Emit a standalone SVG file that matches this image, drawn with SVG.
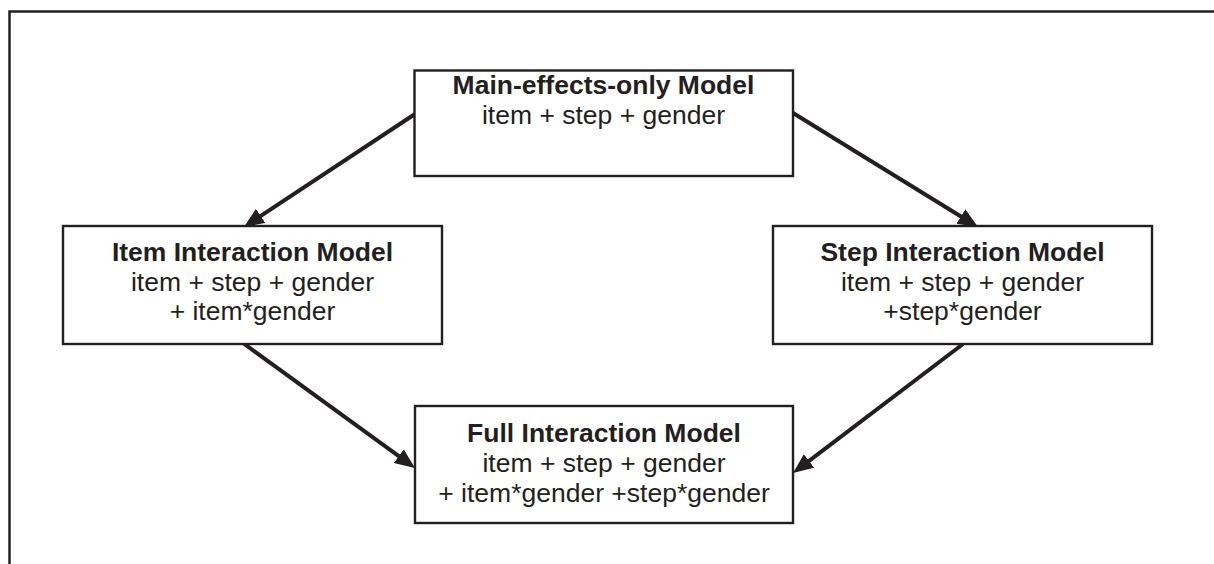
<svg xmlns="http://www.w3.org/2000/svg" width="1214" height="564" viewBox="0 0 1214 564">
<style>
.box{fill:#fff;stroke:#231f20;stroke-width:2.4}
.t{font-family:"Liberation Sans",Arial,sans-serif;font-size:26.5px;fill:#231f20;text-anchor:middle}
.b{font-weight:bold}
.c{stroke:#231f20;stroke-width:4;fill:none}
</style>
<defs>
<marker id="ah" markerUnits="userSpaceOnUse" markerWidth="22" markerHeight="18" refX="11" refY="8.5" orient="auto">
<path d="M0,0 L20,8.5 L0,17 z" fill="#231f20"/>
</marker>
</defs>
<rect width="1214" height="564" fill="#fff"/>
<path d="M9.5,564 V11.5 H1214" fill="none" stroke="#231f20" stroke-width="2.5"/>
<g id="connectors">
<line class="c" x1="415" y1="114" x2="251.5" y2="222" marker-end="url(#ah)"/>
<line class="c" x1="793" y1="113" x2="970.3" y2="222.3" marker-end="url(#ah)"/>
<line class="c" x1="243" y1="343" x2="407.7" y2="462.7" marker-end="url(#ah)"/>
<line class="c" x1="963" y1="344" x2="800.2" y2="467.6" marker-end="url(#ah)"/>
</g>
<g id="main">
<rect class="box" x="414.5" y="70.5" width="378.5" height="105.5"/>
<text class="t b" x="603.5" y="94">Main-effects-only Model</text>
<text class="t" x="603.5" y="124">item + step + gender</text>
</g>
<g id="item">
<rect class="box" x="63" y="226" width="379" height="118"/>
<text class="t b" x="252.5" y="261">Item Interaction Model</text>
<text class="t" x="252.5" y="291">item + step + gender</text>
<text class="t" x="252.5" y="320">+ item*gender</text>
</g>
<g id="step">
<rect class="box" x="773" y="226" width="379" height="118"/>
<text class="t b" x="962.5" y="261">Step Interaction Model</text>
<text class="t" x="962.5" y="291">item + step + gender</text>
<text class="t" x="962.5" y="320">+step*gender</text>
</g>
<g id="full">
<rect class="box" x="415" y="406" width="378" height="117"/>
<text class="t b" x="604" y="442">Full Interaction Model</text>
<text class="t" x="604" y="472">item + step + gender</text>
<text class="t" x="604" y="502">+ item*gender +step*gender</text>
</g>
</svg>
